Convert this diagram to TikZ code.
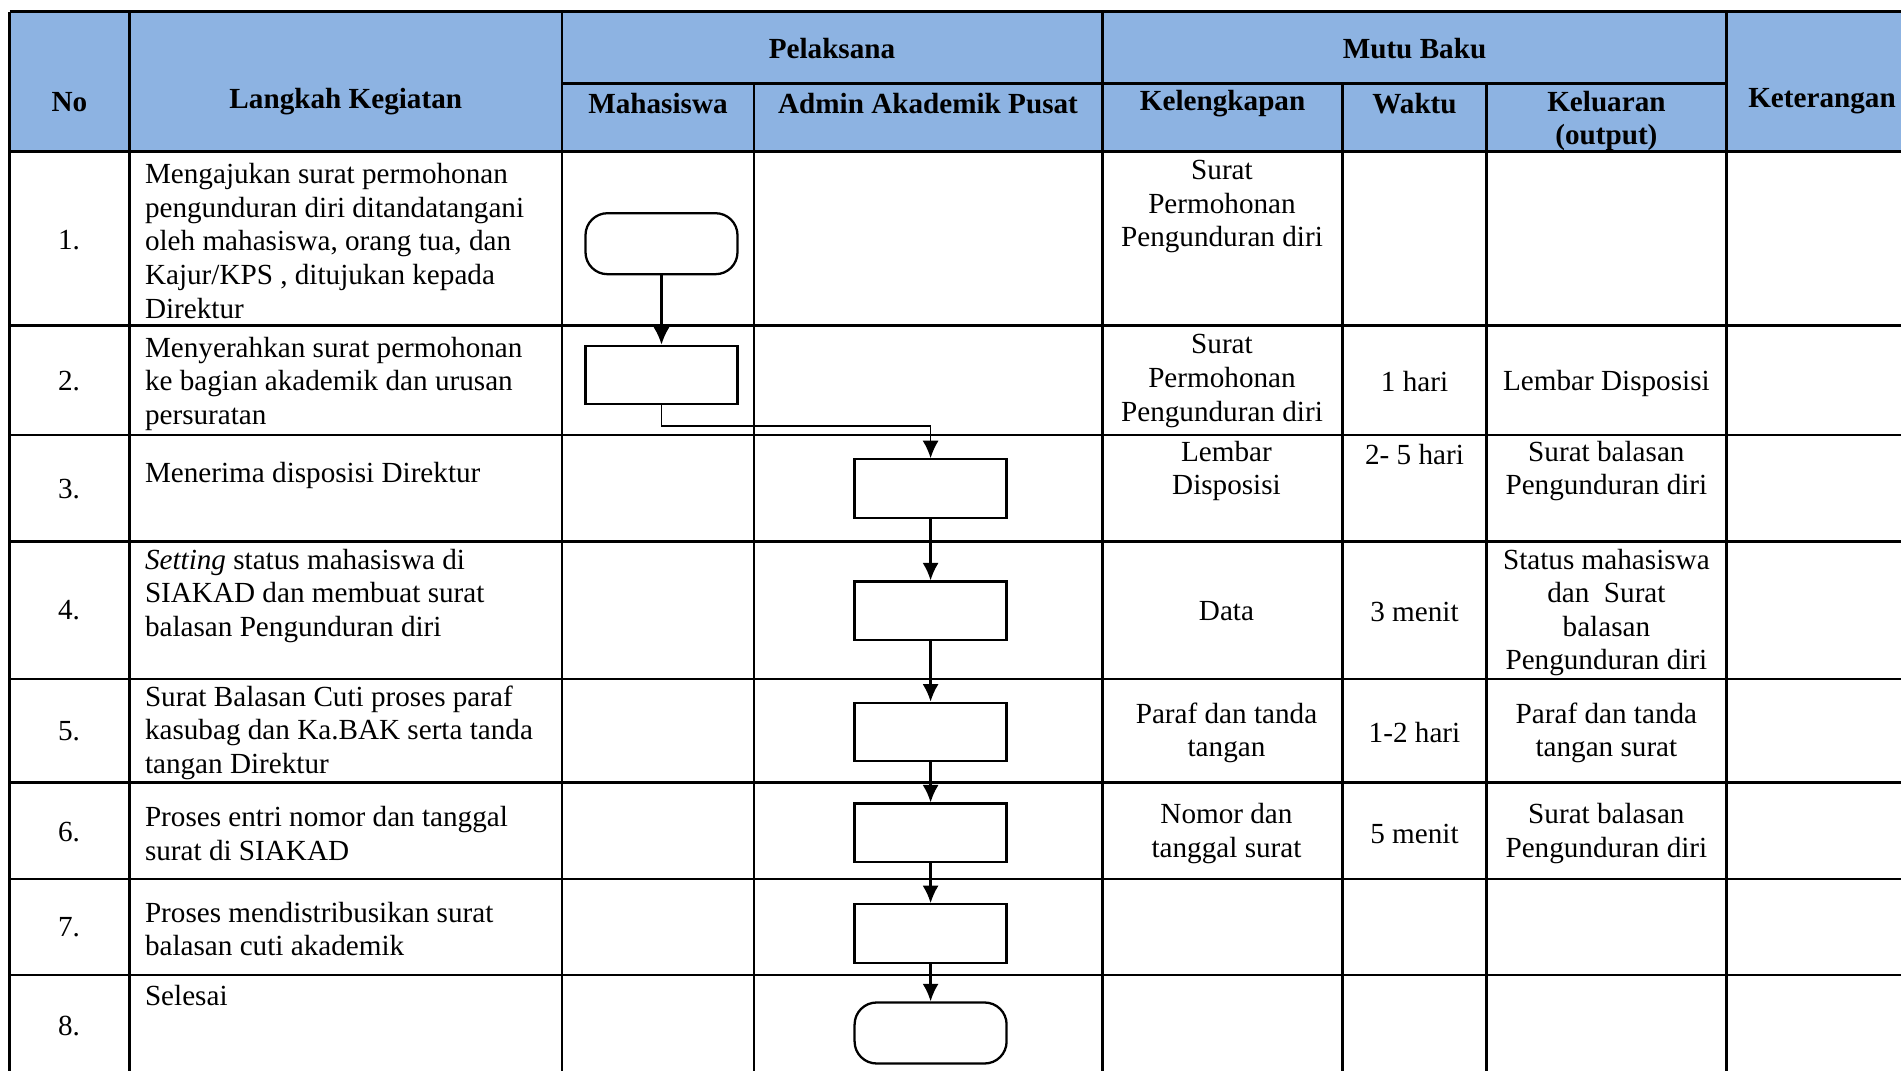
\documentclass[tikz,border=0pt]{standalone}
\usepackage{fontspec}
\setmainfont{Liberation Serif}
\usepackage{tikz}
\usetikzlibrary{positioning, calc, arrows.meta}
\definecolor{headblue}{RGB}{141,179,226}

\begin{document}
\begin{tikzpicture}[
    font=\fontsize{8.3}{9.56}\selectfont,
    every node/.style={inner sep=0pt},
    >={Latex[length=5pt,width=4.6pt]},
    grid/.style={line width=0.75pt},
    headtext/.style={font=\fontsize{8.3}{9.56}\selectfont\bfseries, align=center},
    steptext/.style={anchor=west, align=left},
    celltext/.style={align=center},
    procbox/.style={draw, line width=0.65pt, minimum width=1.52cm, minimum height=0.584cm},
    termbox/.style={procbox, rounded corners=0.22cm, minimum height=0.61cm}
  ]
      \useasboundingbox (0,0) rectangle (19.01,-10.71);

      \fill[headblue] (0.096,-0.117) rectangle (19.01,-1.517);

      \draw[grid] (0.096,-0.117) -- (19.01,-0.117);
      \draw[grid] (5.62,-0.833) -- (17.265,-0.833);
      \draw[grid] (0.096,-1.517) -- (19.01,-1.517);
      \draw[grid] (0.096,-3.255) -- (19.01,-3.255);
      \draw[grid] (0.096,-4.35) -- (19.01,-4.35);
      \draw[grid] (0.096,-5.417) -- (19.01,-5.417);
      \draw[grid] (0.096,-6.79) -- (19.01,-6.79);
      \draw[grid] (0.096,-7.827) -- (19.01,-7.827);
      \draw[grid] (0.096,-8.79) -- (19.01,-8.79);
      \draw[grid] (0.096,-9.75) -- (19.01,-9.75);

      \draw[grid] (0.096,-0.117) -- (0.096,-10.71);
      \draw[grid] (1.295,-0.117) -- (1.295,-10.71);
      \draw[grid] (5.62,-0.117) -- (5.62,-10.71);
      \draw[grid] (7.54,-0.833) -- (7.54,-10.71);
      \draw[grid] (11.025,-0.117) -- (11.025,-10.71);
      \draw[grid] (13.427,-0.833) -- (13.427,-10.71);
      \draw[grid] (14.863,-0.833) -- (14.863,-10.71);
      \draw[grid] (17.265,-0.117) -- (17.265,-10.71);

      \node[headtext] (hNo) at (0.695,-1.016) {No};
      \node[headtext] (hLangkah) at (3.458,-1.016) {Langkah Kegiatan};
      \node[headtext] (hPelaksana) at (8.32,-0.49) {Pelaksana};
      \node[headtext] (hMutu) at (14.145,-0.49) {Mutu Baku};
      \node[headtext] (hMhs) at (6.58,-1.035) {Mahasiswa};
      \node[headtext] (hAdmin) at (9.28,-1.035) {Admin Akademik Pusat};
      \node[headtext] (hKel) at (12.226,-1.04) {Kelengkapan};
      \node[headtext] (hWaktu) at (14.145,-1.04) {Waktu};
      \node[headtext] (hOut) at (16.064,-1.21) {Keluaran\\(output)};
      \node[headtext] (hKet) at (18.22,-1.016) {Keterangan};

      \node (no1) at (0.69,-2.40) {1.};
      \node (no2) at (0.69,-3.807) {2.};
      \node (no3) at (0.69,-4.886) {3.};
      \node (no4) at (0.69,-6.10) {4.};
      \node (no5) at (0.69,-7.31) {5.};
      \node (no6) at (0.69,-8.32) {6.};
      \node (no7) at (0.69,-9.275) {7.};
      \node (no8) at (0.69,-10.257) {8.};

      \node[steptext] (step1) at (1.443,-2.41) {Mengajukan surat permohonan\\pengunduran diri ditandatangani\\oleh mahasiswa, orang tua, dan\\Kajur/KPS , ditujukan kepada\\Direktur};
      \node[steptext] (step2) at (1.443,-3.838) {Menyerahkan surat permohonan\\ke bagian akademik dan urusan\\persuratan};
      \node[steptext] (step3) at (1.443,-4.755) {Menerima disposisi Direktur};
      \node[steptext] (step4) at (1.443,-5.96) {\textit{Setting} status mahasiswa di\\SIAKAD dan membuat surat\\balasan Pengunduran diri};
      \node[steptext] (step5) at (1.443,-7.325) {Surat Balasan Cuti proses paraf\\kasubag dan Ka.BAK serta tanda\\tangan Direktur};
      \node[steptext] (step6) at (1.443,-8.335) {Proses entri nomor dan tanggal\\surat di SIAKAD};
      \node[steptext] (step7) at (1.443,-9.29) {Proses mendistribusikan surat\\balasan cuti akademik};
      \node[steptext] (step8) at (1.443,-9.955) {Selesai};

      \node[celltext] (kel1) at (12.22,-2.068) {Surat\\Permohonan\\Pengunduran diri};
      \node[celltext] (kel2) at (12.22,-3.81) {Surat\\Permohonan\\Pengunduran diri};
      \node[celltext] (kel3) at (12.265,-4.71) {Lembar\\Disposisi};
      \node[celltext] (kel4) at (12.265,-6.115) {Data};
      \node[celltext] (kel5) at (12.265,-7.33) {Paraf dan tanda\\tangan};
      \node[celltext] (kel6) at (12.265,-8.335) {Nomor dan\\tanggal surat};

      \node[celltext] (waktu2) at (14.145,-3.82) {1 hari};
      \node[celltext] (waktu3) at (14.145,-4.545) {2- 5 hari};
      \node[celltext] (waktu4) at (14.145,-6.115) {3 menit};
      \node[celltext] (waktu5) at (14.145,-7.325) {1-2 hari};
      \node[celltext] (waktu6) at (14.145,-8.335) {5 menit};

      \node[celltext] (out2) at (16.064,-3.83) {Lembar Disposisi};
      \node[celltext] (out3) at (16.064,-4.71) {Surat balasan\\Pengunduran diri};
      \node[celltext] (out4) at (16.064,-6.125) {Status mahasiswa\\dan~ Surat\\balasan\\Pengunduran diri};
      \node[celltext] (out5) at (16.064,-7.33) {Paraf dan tanda\\tangan surat};
      \node[celltext] (out6) at (16.064,-8.335) {Surat balasan\\Pengunduran diri};

      \node[termbox] (start) at (6.615,-2.437) {};
      \node[procbox] (box2) at (6.615,-3.75) {};
      \node[procbox] (box3) at (9.306,-4.885) {};
      \node[procbox] (box4) at (9.306,-6.108) {};
      \node[procbox] (box5) at (9.306,-7.32) {};
      \node[procbox] (box6) at (9.306,-8.328) {};
      \node[procbox] (box7) at (9.306,-9.335) {};
      \node[termbox] (stop) at (9.306,-10.33) {};
      \coordinate (bend) at (6.615,-4.257);

      \draw[->, line width=0.65pt] (node cs:name=start) -- (node cs:name=box2);
      \draw[->, line width=0.5pt] (box2) |- (bend) -| (box3);
      \draw[->, line width=0.65pt] (node cs:name=box3) -- (node cs:name=box4);
      \draw[->, line width=0.65pt] (node cs:name=box4) -- (node cs:name=box5);
      \draw[->, line width=0.65pt] (node cs:name=box5) -- (node cs:name=box6);
      \draw[->, line width=0.65pt] (node cs:name=box6) -- (node cs:name=box7);
      \draw[->, line width=0.65pt] (node cs:name=box7) -- (node cs:name=stop);
    \end{tikzpicture}
\end{document}
